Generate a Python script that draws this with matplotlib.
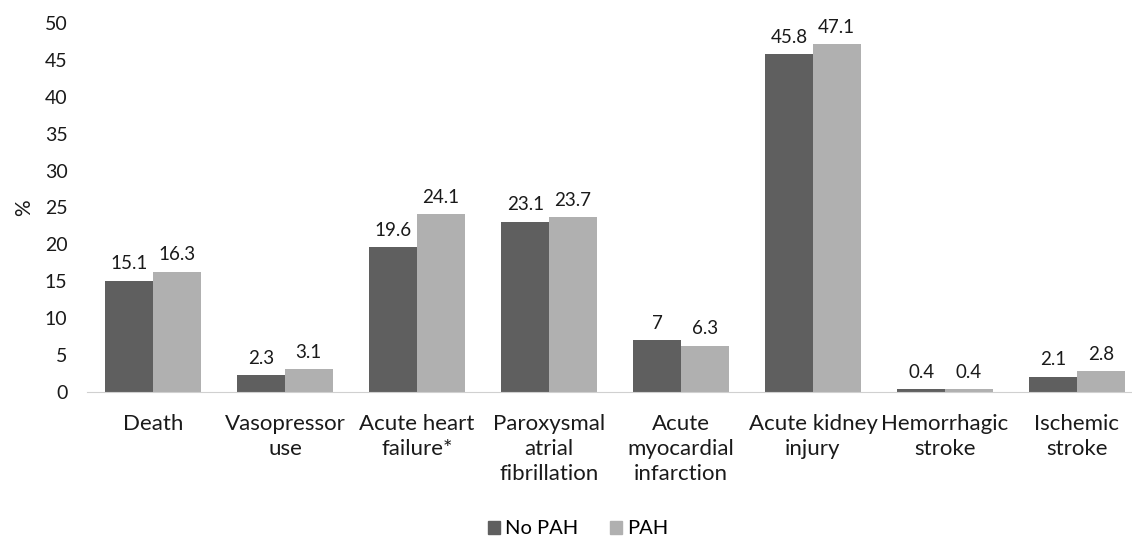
import numpy as np
import matplotlib.pyplot as plt
from matplotlib.patches import Patch

plt.rcParams['font.family'] = ['Lato', 'DejaVu Sans']

categories = ["Death", "Vasopressor\nuse", "Acute heart\nfailure*", "Paroxysmal\natrial\nfibrillation",
              "Acute\nmyocardial\ninfarction", "Acute kidney\ninjury", "Hemorrhagic\nstroke", "Ischemic\nstroke"]
no_pah = [15.1, 2.3, 19.6, 23.1, 7, 45.8, 0.4, 2.1]
pah = [16.3, 3.1, 24.1, 23.7, 6.3, 47.1, 0.4, 2.8]
no_pah_labels = ["15.1", "2.3", "19.6", "23.1", "7", "45.8", "0.4", "2.1"]
pah_labels = ["16.3", "3.1", "24.1", "23.7", "6.3", "47.1", "0.4", "2.8"]

DARK, LIGHT = '#5f5f5f', '#b0b0b0'
W = 0.36

fig = plt.figure(figsize=(11.32, 5.38), dpi=100)
ax = fig.add_axes([87 / 1132, 146 / 538, 1 - 87 / 1132, (392 - 23) / 538])

x = np.arange(len(categories))
b1 = ax.bar(x - W / 2, no_pah, W, color=DARK, label='No PAH')
b2 = ax.bar(x + W / 2, pah, W, color=LIGHT, label='PAH')

for bars, labs in ((b1, no_pah_labels), (b2, pah_labels)):
    for r, t in zip(bars, labs):
        ax.annotate(t, (r.get_x() + r.get_width() / 2, r.get_height()),
                    xytext=(0, 6), textcoords='offset points',
                    ha='center', va='bottom', fontsize=13.5, color='#1a1a1a')

ax.set_xlim(-0.5, 7.5 - 11 / 132)
ax.set_ylim(0, 50)
ax.set_yticks(range(0, 51, 5))
ax.set_xticks(x)
ax.set_xticklabels(categories, fontsize=16, color='#1a1a1a', linespacing=1.32, va='top')
ax.tick_params(axis='y', labelsize=14, colors='#1a1a1a', length=0, pad=14)
ax.tick_params(axis='x', length=0, pad=16)
for s in ('top', 'right', 'left'):
    ax.spines[s].set_visible(False)
ax.spines['bottom'].set_color('#d0d0d0')
ax.set_ylabel('%', fontsize=15, color='#1a1a1a', labelpad=8)

fig.legend(handles=[Patch(color=DARK, label='No PAH'), Patch(color=LIGHT, label='PAH')],
           loc='center', bbox_to_anchor=(578 / 1132, 1 - 529 / 538), ncol=2, frameon=False,
           fontsize=14.5, handlelength=0.6, handleheight=0.6, handletextpad=0.25, columnspacing=1.6)

fig.savefig('out.png', dpi=100)
